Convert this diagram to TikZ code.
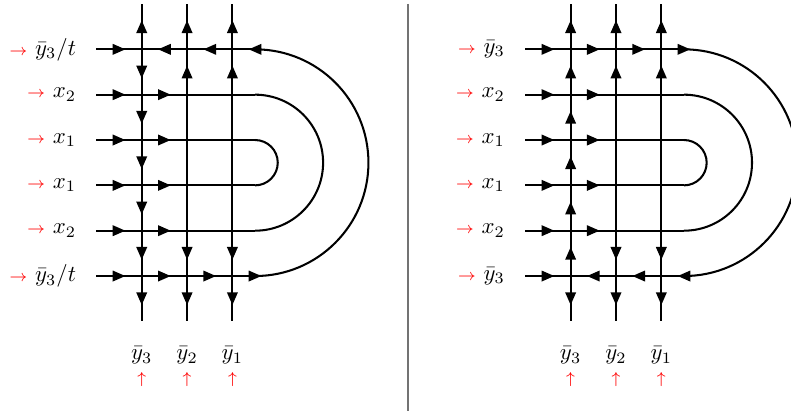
\documentclass[tikz,border=0pt]{standalone}
\usepackage{amsmath,amssymb}
\usepackage{tikz}
\usetikzlibrary{arrows.meta,decorations.markings,positioning}

\newcommand{\redto}{{\color{red}\scriptsize$\rightarrow$}}
\newcommand{\redup}{{\color{red}\scriptsize$\uparrow$}}
% grid points of one panel
\newcommand{\gridpoints}{%
  \foreach \r in {0,...,5} {
    \coordinate (s\r) at (-1,\r);
    \coordinate (e\r) at (2.5,\r);
    \foreach \c in {0,1,2} {\coordinate (g\c\r) at (\c,\r);}
  }
  \foreach \c in {0,1,2} {
    \coordinate (t\c) at (\c,6);
    \coordinate (b\c) at (\c,-1);
  }
}

\begin{document}
\begin{tikzpicture}[
    x=0.7cm, y=0.7cm,
    wire/.style={line width=0.9pt},
    mid/.style={postaction={decorate, decoration={markings,
        mark=at position #1 with {\arrow[xshift=2.8pt]{Triangle[length=5.6pt,width=4.6pt]}}}}},
    mid/.default=0.5,
    rowlab/.style={anchor=east, inner sep=0pt},
    collab/.style={inner sep=0pt},
    sepline/.style={black!55, line width=0.8pt}
]
\useasboundingbox (-3.126,-3.066) rectangle (14.32,6.088);

% left panel
\begin{scope}[name prefix=L-]
  \gridpoints
  % verticals
  \foreach \c in {1,2} {
    \draw[wire,mid] (g\c5) -- (t\c);
    \draw[wire,mid] (g\c4) -- (g\c5);
    \draw[wire] (g\c4) -- (g\c1);
    \draw[wire,mid] (g\c1) -- (g\c0);
    \draw[wire,mid] (g\c0) -- (b\c);
  }
  \draw[wire,mid] (g05) -- (t0);
  \foreach \a/\b in {g05/g04, g04/g03, g03/g02, g02/g01, g01/g00, g00/b0}
    {\draw[wire,mid] (\a) -- (\b);}
  % horizontals
  \foreach \r in {1,...,4} {
    \draw[wire,mid] (s\r) -- (g0\r);
    \draw[wire,mid] (g0\r) -- (g1\r);
    \draw[wire] (g1\r) -- (e\r);
  }
  \foreach \a/\b in {s0/g00, g00/g10, g10/g20}
    {\draw[wire,mid] (\a) -- (\b);}
  \draw[wire,mid=0.999] (g20) -- (e0);
  \draw[wire,mid] (s5) -- (g05);
  \foreach \a/\b in {g15/g05, g25/g15}
    {\draw[wire,mid] (\a) -- (\b);}
  \draw[wire,mid=0.001] (e5) -- (g25);
  % turns
  \draw[wire] (e3) arc[start angle=90, end angle=-90, radius=0.5];
  \draw[wire] (e4) arc[start angle=90, end angle=-90, radius=1.5];
  \draw[wire] (e5) arc[start angle=90, end angle=-90, radius=2.5];
  % labels
  \node[rowlab] (n5) at (-1.44,5) {\redto\ $\bar y_3/t$};
  \node[rowlab] (n4) at (-1.44,4) {\redto\ $x_2$};
  \node[rowlab] (n3) at (-1.44,3) {\redto\ $x_1$};
  \node[rowlab] (n2) at (-1.44,2) {\redto\ $x_1$};
  \node[rowlab] (n1) at (-1.44,1) {\redto\ $x_2$};
  \node[rowlab] (n0) at (-1.44,0) {\redto\ $\bar y_3/t$};
  \node (f0) at (0,-1.75) {$\bar y_3$};
  \node (f1) at (1,-1.75) {$\bar y_2$};
  \node (f2) at (2,-1.75) {$\bar y_1$};
  \node[collab] (u0) at (0,-2.28) {\redup};
  \node[collab] (u1) at (1,-2.28) {\redup};
  \node[collab] (u2) at (2,-2.28) {\redup};
\end{scope}

% divider
\coordinate (divT) at (5.88,6);
\coordinate (divB) at (5.88,-2.98);
\draw[sepline] (divT) -- (divB);

% right panel
\begin{scope}[shift={(9.46,0)}, name prefix=R-]
  \gridpoints
  % verticals
  \foreach \c in {1,2} {
    \draw[wire,mid] (g\c5) -- (t\c);
    \draw[wire,mid] (g\c4) -- (g\c5);
    \draw[wire] (g\c4) -- (g\c1);
    \draw[wire,mid] (g\c1) -- (g\c0);
    \draw[wire,mid] (g\c0) -- (b\c);
  }
  \foreach \a/\b in {g00/g01, g01/g02, g02/g03, g03/g04, g04/g05, g05/t0}
    {\draw[wire,mid] (\a) -- (\b);}
  \draw[wire,mid] (g00) -- (b0);
  % horizontals
  \foreach \r in {1,...,4} {
    \draw[wire,mid] (s\r) -- (g0\r);
    \draw[wire,mid] (g0\r) -- (g1\r);
    \draw[wire] (g1\r) -- (e\r);
  }
  \foreach \a/\b in {s5/g05, g05/g15, g15/g25}
    {\draw[wire,mid] (\a) -- (\b);}
  \draw[wire,mid=0.999] (g25) -- (e5);
  \draw[wire,mid] (s0) -- (g00);
  \foreach \a/\b in {g10/g00, g20/g10}
    {\draw[wire,mid] (\a) -- (\b);}
  \draw[wire,mid=0.001] (e0) -- (g20);
  % turns
  \draw[wire] (e3) arc[start angle=90, end angle=-90, radius=0.5];
  \draw[wire] (e4) arc[start angle=90, end angle=-90, radius=1.5];
  \draw[wire] (e5) arc[start angle=90, end angle=-90, radius=2.5];
  % labels
  \node[rowlab] (n5) at (-1.44,5) {\redto\ $\bar y_3$};
  \node[rowlab] (n4) at (-1.44,4) {\redto\ $x_2$};
  \node[rowlab] (n3) at (-1.44,3) {\redto\ $x_1$};
  \node[rowlab] (n2) at (-1.44,2) {\redto\ $x_1$};
  \node[rowlab] (n1) at (-1.44,1) {\redto\ $x_2$};
  \node[rowlab] (n0) at (-1.44,0) {\redto\ $\bar y_3$};
  \node (f0) at (0,-1.75) {$\bar y_3$};
  \node (f1) at (1,-1.75) {$\bar y_2$};
  \node (f2) at (2,-1.75) {$\bar y_1$};
  \node[collab] (u0) at (0,-2.28) {\redup};
  \node[collab] (u1) at (1,-2.28) {\redup};
  \node[collab] (u2) at (2,-2.28) {\redup};
\end{scope}
\end{tikzpicture}
\end{document}
